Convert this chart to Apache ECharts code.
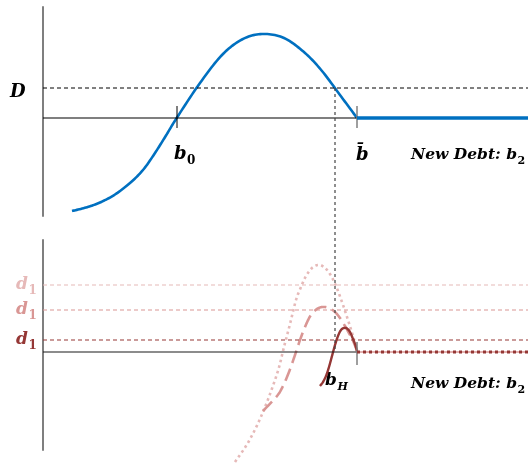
<!DOCTYPE html>
<html>
<head>
<meta charset="utf-8">
<script src="https://cdn.jsdelivr.net/npm/echarts@6/dist/echarts.min.js"></script>
<style>
  html, body { margin: 0; padding: 0; background: #fff; }
  #chart { width: 528px; height: 463px; }
</style>
</head>
<body>
<div id="chart"></div>
<script>
// ---- Model values (debt on x, value on y) ----
const X_MAX = 97;
const B_ZERO = 26.8;      // b0: first zero of D(b2)
const B_BAR = 62.8;       // b-bar: debt limit
const B_STAR = 58.4;      // where D(b2) meets the D level
const D_LEVEL = 3.0;

// upper panel: D(b2)
const topDebt  = [5.8, 8.6, 11.4, 14.4, 17.4, 20.0, 22.4, 24.6, 26.8, 31.4, 35.8, 39.8, 43.8, 48.2, 52.4, 55.8, 59.4, 62.8];
const topValue = [-9.3, -8.95, -8.45, -7.65, -6.5, -5.2, -3.5, -1.75, 0.05, 3.5, 6.3, 7.85, 8.4, 8.0, 6.5, 4.7, 2.3, 0.0];

// lower panel: three d1 levels and their curves (light, medium, dark)
const d1Levels = [6.7, 4.2, 1.2];
const d1Colors = ['#E6B9B8', '#D99694', '#953735'];

const lightDebt  = [38.4, 41.2, 44.0, 46.8, 48.2, 49.4, 50.6, 51.6, 52.6, 53.8, 55.0, 56.2, 57.4, 58.6, 59.8, 61.0, 62.0, 62.8];
const lightValue = [-11.0, -8.9, -6.0, -2.2, 0.5, 2.8, 5.2, 6.5, 7.6, 8.4, 8.7, 8.5, 7.8, 6.6, 5.0, 3.2, 1.6, 0.2];

const midDebt  = [44.0, 46.8, 48.0, 49.2, 50.4, 51.4, 52.4, 53.4, 54.4, 55.4, 56.4, 57.4, 58.4, 59.4, 60.4, 61.4, 62.2, 62.8];
const midValue = [-5.9, -4.4, -3.4, -2.0, -0.3, 1.2, 2.5, 3.55, 4.15, 4.45, 4.5, 4.35, 4.0, 3.4, 2.6, 1.7, 0.9, 0.1];

const darkDebt  = [55.4, 56.0, 56.6, 57.2, 57.8, 58.4, 59.0, 59.6, 60.2, 60.8, 61.4, 62.0, 62.4, 62.8];
const darkValue = [-3.4, -3.0, -2.4, -1.5, -0.4, 0.7, 1.6, 2.2, 2.4, 2.35, 2.0, 1.3, 0.8, 0.1];

const TICK_UP = 1.2, TICK_DOWN = -1.0;

const zip = (xs, ys) => xs.map((x, i) => [x, ys[i]]);

const chart = echarts.init(document.getElementById('chart'), null, { renderer: 'canvas' });

function seg(grid, data, color, width, type) {
  return {
    type: 'line', xAxisIndex: grid, yAxisIndex: grid, data: data,
    symbol: 'none', silent: true, clip: false, animation: false,
    lineStyle: { color: color, width: width, type: type || 'solid', cap: 'butt' }
  };
}

// Catmull-Rom spline through the projected points, drawn as one polyline
function splinePoints(pts, steps) {
  const out = [];
  const n = pts.length;
  for (let i = 0; i < n - 1; i++) {
    const p0 = pts[Math.max(i - 1, 0)], p1 = pts[i], p2 = pts[i + 1], p3 = pts[Math.min(i + 2, n - 1)];
    for (let s = 0; s < steps; s++) {
      const t = s / steps, t2 = t * t, t3 = t2 * t;
      const f = k => 0.5 * ((2 * p1[k]) + (-p0[k] + p2[k]) * t +
        (2 * p0[k] - 5 * p1[k] + 4 * p2[k] - p3[k]) * t2 +
        (-p0[k] + 3 * p1[k] - 3 * p2[k] + p3[k]) * t3);
      out.push([f(0), f(1)]);
    }
  }
  out.push(pts[n - 1]);
  return out;
}

function curve(grid, xs, ys, color, width, dash) {
  return {
    type: 'custom', xAxisIndex: grid, yAxisIndex: grid, coordinateSystem: 'cartesian2d',
    data: zip(xs, ys), silent: true, clip: false, animation: false, z: 3,
    renderItem: function (params, api) {
      if (params.dataIndex !== 0) return null;
      const pts = xs.map((x, i) => api.coord([x, ys[i]]));
      return {
        type: 'polyline',
        shape: { points: splinePoints(pts, 12) },
        style: { stroke: color, lineWidth: width, fill: null, lineDash: dash || null, lineCap: 'butt', lineJoin: 'round' }
      };
    }
  };
}

const series = [
  // upper panel
  seg(0, [[0, 0], [B_BAR, 0]], '#000', 1.2),
  seg(0, [[0, D_LEVEL], [X_MAX, D_LEVEL]], '#000', 1, [4, 3]),
  seg(0, [[B_ZERO, TICK_UP], [B_ZERO, TICK_DOWN]], '#000', 1),
  seg(0, [[B_BAR, TICK_UP], [B_BAR, TICK_DOWN]], '#7f7f7f', 1.5),
  curve(0, topDebt, topValue, '#0070C0', 2.6),
  seg(0, [[B_BAR, 0], [X_MAX, 0]], '#0070C0', 3.5),
  // lower panel
  seg(1, [[0, 0], [B_BAR, 0]], '#1a1a1a', 1.2),
  seg(1, [[0, d1Levels[0]], [X_MAX, d1Levels[0]]], d1Colors[0], 1.2, [4, 3]),
  seg(1, [[0, d1Levels[1]], [X_MAX, d1Levels[1]]], d1Colors[1], 1.2, [4, 3]),
  seg(1, [[0, d1Levels[2]], [X_MAX, d1Levels[2]]], d1Colors[2], 1.2, [4, 3]),
  seg(1, [[B_BAR, TICK_UP - 0.2], [B_BAR, TICK_DOWN - 0.3]], '#7f7f7f', 1.5),
  curve(1, lightDebt, lightValue, d1Colors[0], 2.6, [2.6, 3.2]),
  curve(1, midDebt, midValue, d1Colors[1], 2.6, [13, 6]),
  curve(1, darkDebt, darkValue, d1Colors[2], 2.4),
  seg(1, [[B_BAR, 0], [X_MAX, 0]], d1Colors[1], 1.5),
  seg(1, [[B_BAR, 0], [X_MAX, 0]], d1Colors[2], 3, [3, 3])
];

const axisY = (grid, min, max) => ({
  type: 'value', gridIndex: grid, min: min, max: max,
  axisLine: { show: true, onZero: false, lineStyle: { color: '#7f7f7f', width: 2 } },
  axisTick: { show: false }, axisLabel: { show: false }, splitLine: { show: false }
});
const axisX = grid => ({
  type: 'value', gridIndex: grid, min: 0, max: X_MAX, show: false,
  splitLine: { show: false }
});

chart.setOption({
  animation: false,
  backgroundColor: '#fff',
  grid: [
    { left: 43, top: 7, width: 485, height: 209 },
    { left: 43, top: 240, width: 485, height: 210 }
  ],
  xAxis: [axisX(0), axisX(1)],
  yAxis: [axisY(0, -9.8, 11.1), axisY(1, -9.8, 11.2)],
  series: series
});

// ---- labels and the dotted link between panels ----
const SERIF = '"DejaVu Serif", "Liberation Serif", serif';
const ctx = document.createElement('canvas').getContext('2d');
function textWidth(t, font) { ctx.font = font; return ctx.measureText(t).width; }

const graphics = [];
function mathLabel(left, baseline, main, sub, color, size, subSize, subDrop) {
  const font = 'italic bold ' + size + 'px ' + SERIF;
  graphics.push({
    type: 'text', x: left, y: baseline, silent: true,
    style: { text: main, font: font, fill: color, verticalAlign: 'bottom' }
  });
  if (sub) {
    const w = textWidth(main, font);
    const sfont = (sub === 'H' ? 'italic ' : '') + 'bold ' + subSize + 'px ' + SERIF;
    graphics.push({
      type: 'text', x: left + w + 0.5, y: baseline + subDrop, silent: true,
      style: { text: sub, font: sfont, fill: color, verticalAlign: 'bottom' }
    });
  }
}

mathLabel(10, 101, 'D', null, '#000', 18);
mathLabel(174, 163, 'b', '0', '#000', 18, 12, 4);
mathLabel(356, 164, 'b\u0304', null, '#000', 18);
mathLabel(411, 163, 'New Debt: b', '2', '#000', 15.5, 11, 4);
mathLabel(16, 293, 'd', '1', d1Colors[0], 17, 12, 4);
mathLabel(16, 318, 'd', '1', d1Colors[1], 17, 12, 4);
mathLabel(16, 348, 'd', '1', d1Colors[2], 17, 12, 4);
mathLabel(325, 389, 'b', 'H', '#000', 17, 11, 4);
mathLabel(411, 392, 'New Debt: b', '2', '#000', 15.5, 11, 4);

const pTop = chart.convertToPixel({ xAxisIndex: 0, yAxisIndex: 0 }, [B_STAR, D_LEVEL]);
const pBot = chart.convertToPixel({ xAxisIndex: 1, yAxisIndex: 1 }, [B_STAR, 0]);
graphics.push({
  type: 'line', silent: true, z: 5,
  shape: { x1: pTop[0], y1: pTop[1], x2: pBot[0], y2: pBot[1] },
  style: { stroke: '#444', lineWidth: 1.2, lineDash: [3, 3] }
});

chart.setOption({ graphic: graphics });
</script>
</body>
</html>
